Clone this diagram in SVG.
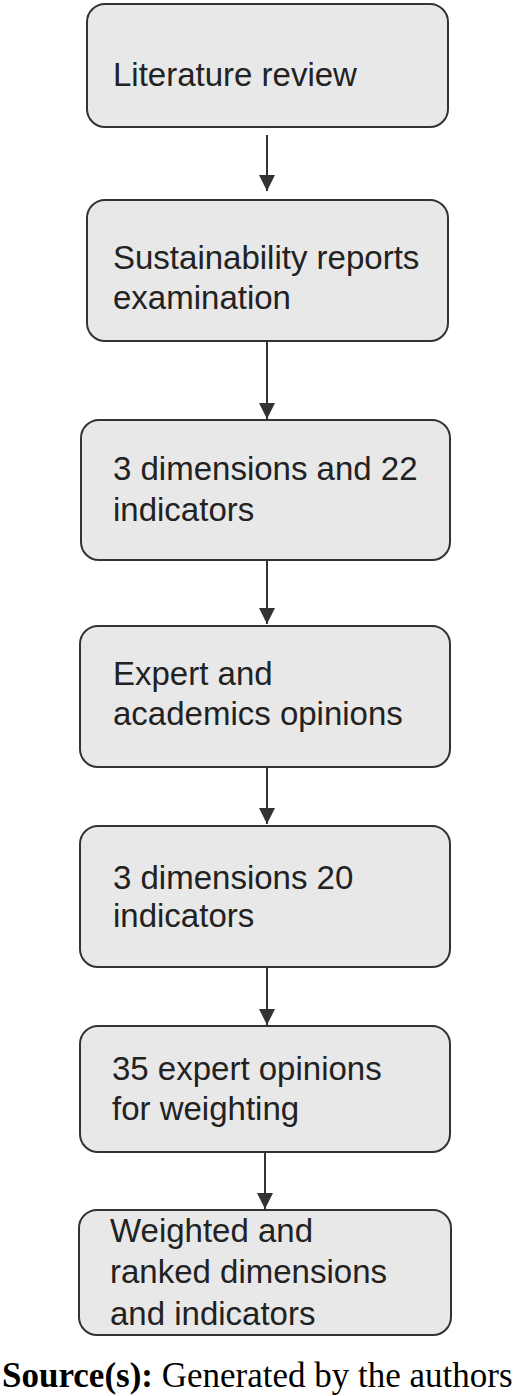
<svg xmlns="http://www.w3.org/2000/svg" width="520" height="1396" viewBox="0 0 520 1396">
  <style>
    .box { fill: #e8e8e8; stroke: #333333; stroke-width: 2; }
    .lbl { font-family: "Liberation Sans", Arial, sans-serif; font-size: 33px; fill: #222222; }
    .conn { stroke: #333333; stroke-width: 2; fill: none; marker-end: url(#arrow); }
    .src { font-family: "Liberation Serif", "Times New Roman", serif; font-size: 35px; fill: #000000; }
  </style>
  <defs>
    <marker id="arrow" viewBox="0 0 16 20" refX="16" refY="10" markerWidth="16" markerHeight="20" markerUnits="userSpaceOnUse" orient="auto">
      <path d="M0,2 L16,10 L0,18 Z" fill="#333333"/>
    </marker>
  </defs>
  <rect width="520" height="1396" fill="#ffffff"/>

  <g id="connectors">
    <line class="conn" x1="267" y1="135" x2="267" y2="191"/>
    <line class="conn" x1="267" y1="341" x2="267" y2="419"/>
    <line class="conn" x1="267" y1="560" x2="267" y2="624"/>
    <line class="conn" x1="267" y1="767" x2="267" y2="824"/>
    <line class="conn" x1="267" y1="967" x2="267" y2="1025"/>
    <line class="conn" x1="265" y1="1152" x2="265" y2="1209"/>
  </g>

  <g id="n1">
    <rect class="box" x="87" y="4" width="361" height="123" rx="18"/>
    <text class="lbl" x="113" y="86">Literature review</text>
  </g>
  <g id="n2">
    <rect class="box" x="87" y="200" width="361" height="141" rx="18"/>
    <text class="lbl" x="113" y="269">Sustainability reports</text>
    <text class="lbl" x="113" y="309">examination</text>
  </g>
  <g id="n3">
    <rect class="box" x="81" y="420" width="369" height="140" rx="18"/>
    <text class="lbl" x="113" y="480">3 dimensions and 22</text>
    <text class="lbl" x="113" y="521">indicators</text>
  </g>
  <g id="n4">
    <rect class="box" x="80" y="626" width="370" height="141" rx="18"/>
    <text class="lbl" x="113" y="685">Expert and</text>
    <text class="lbl" x="113" y="725">academics opinions</text>
  </g>
  <g id="n5">
    <rect class="box" x="80" y="826" width="370" height="141" rx="18"/>
    <text class="lbl" x="113" y="889">3 dimensions 20</text>
    <text class="lbl" x="113" y="927">indicators</text>
  </g>
  <g id="n6">
    <rect class="box" x="80" y="1026" width="370" height="126" rx="18"/>
    <text class="lbl" x="112" y="1080">35 expert opinions</text>
    <text class="lbl" x="112" y="1120">for weighting</text>
  </g>
  <g id="n7">
    <rect class="box" x="79" y="1210" width="372" height="125" rx="18"/>
    <text class="lbl" x="110" y="1242">Weighted and</text>
    <text class="lbl" x="110" y="1283">ranked dimensions</text>
    <text class="lbl" x="110" y="1325">and indicators</text>
  </g>

  <text class="src" x="2" y="1387"><tspan font-weight="bold">Source(s):</tspan> Generated by the authors</text>
</svg>
